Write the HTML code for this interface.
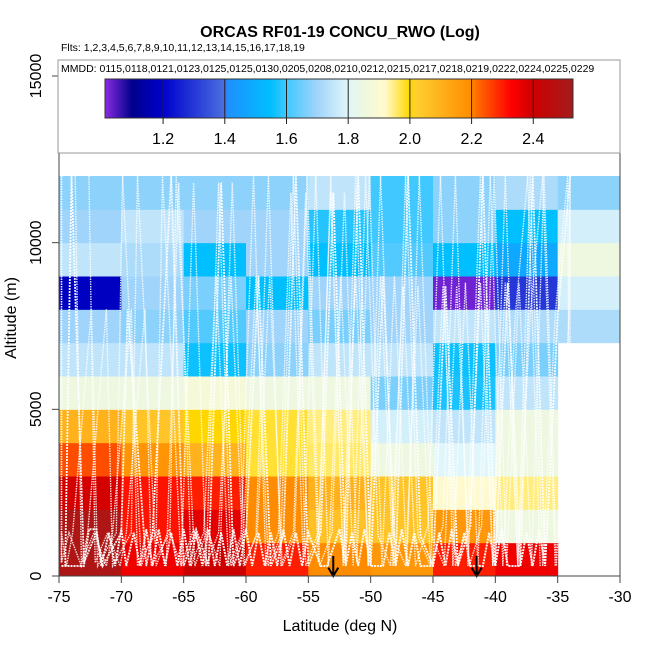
<!DOCTYPE html>
<html><head><meta charset="utf-8"><style>
html,body{margin:0;padding:0;background:#fff;}
svg{display:block;font-family:"Liberation Sans",Arial,sans-serif;}
</style></head><body>
<svg id="chart" width="650" height="650" viewBox="0 0 650 650" xmlns="http://www.w3.org/2000/svg">
<g id="cells"></g>
<g id="tracks"></g>
<g id="axes"></g>
<text x="340" y="37" text-anchor="middle" font-size="16" font-weight="bold">ORCAS RF01-19 CONCU_RWO (Log)</text>
<text x="61" y="51" font-size="10.5">Flts: 1,2,3,4,5,6,7,8,9,10,11,12,13,14,15,16,17,18,19</text>
<text x="340" y="631" text-anchor="middle" font-size="16">Latitude (deg N)</text>
<text transform="translate(16,318) rotate(-90)" text-anchor="middle" font-size="16">Altitude (m)</text>
<g id="legend"></g>
</svg>
<script>
const lats = [-75,-70,-65,-60,-55,-50,-45,-40,-35];
const alts = [0,1000,2000,3000,4000,5000,6000,7000,8000,9000,10000,11000];
// values[row][col], row = altitude bin bottom-up, col = latitude bin
const values = [
 [2.5,2.35,2.4,2.3,2.2,2.17,2.3,2.35,null],
 [2.5,2.31,2.37,2.2,2.06,2.05,2.17,1.85,null],
 [2.39,2.31,2.3,2.2,2.1,2.05,1.92,1.95,null],
 [2.25,2.18,2.1,1.98,1.96,1.85,1.8,1.85,null],
 [2.1,2.05,2.0,1.98,1.95,1.78,1.75,1.85,null],
 [1.85,1.85,1.88,1.85,1.85,1.66,1.57,1.75,null],
 [1.75,1.75,1.56,1.68,1.75,1.75,1.56,1.66,null],
 [1.7,1.68,1.62,1.7,1.66,1.7,1.75,1.72,1.72],
 [1.18,1.7,1.66,1.55,1.7,1.7,1.02,1.3,1.78],
 [1.75,1.72,1.55,1.7,1.55,1.62,1.55,1.48,1.85],
 [1.7,1.75,1.7,1.7,1.58,1.6,1.68,1.55,1.78],
 [1.68,1.68,1.68,1.68,1.75,1.6,1.68,1.72,1.68]
];
const xTicks = [-75,-70,-65,-60,-55,-50,-45,-40,-35,-30];
const yTicks = [0,5000,10000,15000];
const cbTicks = [1.2,1.4,1.6,1.8,2.0,2.2,2.4];
const arrowLats = [-53,-41.5];
const trackLat = [-74.5,-74,-73,-72,-71.5,-70,-69.5,-68,-67.5,-66,-65,-64,-63,-62,-61,-60,-59,-58,-57,-56,-55,-54,-53,-52,-51,-50,-49,-48,-47,-46,-45,-44,-43,-42,-41,-40,-39,-38,-37,-36,-35,-34];
const trackAlt = [300,12000,400,1300,300,1300,8000,300,1300,12000,300,1400,300,11800,300,1300,9000,300,1200,12000,300,1300,11500,400,12000,300,9000,300,12000,1200,300,8700,300,1500,12000,300,8800,300,12000,300,7800,12000];
const lowLat = [-74.8,-74.5,-73,-72.6,-72,-71.6,-71,-70.5,-70,-69.6,-69,-68.5,-68,-67.5,-67,-66.5,-66,-65.5,-65,-64.5,-64,-63.5,-63,-62.5,-62,-61.5,-61,-60.5,-60,-59.5,-59,-58.5,-58,-57.5,-57,-56.5,-56,-55.5,-55,-54,-53.5,-52.5,-52,-51.5,-51,-50.5,-50,-49,-48.5,-48,-47.5,-47,-46.5,-46,-45,-44.5,-44,-43.5,-43,-42.5,-42,-41,-40.5,-40,-39.5,-39,-38,-37.5,-37,-36.5,-36];
const lowAlt = [300,300,300,1400,1400,300,1300,300,1400,300,1300,300,1400,300,1400,300,1300,300,1400,300,1300,300,1400,300,1300,300,1400,300,1400,300,1300,300,1300,300,1400,300,1300,300,1300,300,300,1400,300,1300,300,1400,300,300,1300,300,1400,300,1300,300,300,1300,300,1400,300,1300,300,300,1300,300,1400,300,300,1300,300,1400,300];
const cbStops = [[1.0,"#8a2be2"],[1.1,"#00008b"],[1.2,"#0000cd"],[1.4,"#4a70e0"],[1.41,"#1e90ff"],[1.55,"#00bfff"],[1.6,"#40c8ff"],[1.7,"#a0d4fa"],[1.8,"#e0f6fa"],[1.85,"#eef8e0"],[1.92,"#fffacd"],[2.0,"#ffd700"],[2.02,"#ffd030"],[2.2,"#ff8c00"],[2.22,"#ff6a00"],[2.33,"#ff0000"],[2.4,"#cd0000"],[2.53,"#a51c1c"]];

const NS="http://www.w3.org/2000/svg";
const X = v => 59 + (v + 75) * (561/45);
const Y = v => 576 - v * (500/15000);
const CB = v => 105 + (v - 1.0117) * (308.5);
function hex(c){return [1,3,5].map(i=>parseInt(c.substr(i,2),16));}
function cmap(v){
  if(v<=cbStops[0][0])return cbStops[0][1];
  for(let i=1;i<cbStops.length;i++){
    if(v<=cbStops[i][0]){
      const a=cbStops[i-1],b=cbStops[i],t=(v-a[0])/(b[0]-a[0]);
      const ca=hex(a[1]),cb=hex(b[1]);
      return "rgb("+ca.map((x,k)=>Math.round(x+(cb[k]-x)*t)).join(",")+")";
    }
  }
  return cbStops[cbStops.length-1][1];
}
function mk(tag,attrs,parent){const e=document.createElementNS(NS,tag);for(const k in attrs)e.setAttribute(k,attrs[k]);parent.appendChild(e);return e;}

const gc=document.getElementById("cells");
values.forEach((row,r)=>row.forEach((v,c)=>{
  if(v===null)return;
  const x0=X(lats[c]),x1=X(lats[c]+5),y0=Y(alts[r]+1000),y1=Y(alts[r]);
  const e=mk("rect",{x:x0,y:y0,width:x1-x0+0.5,height:y1-y0+0.5,fill:cmap(v)},gc);
  
  
}));

const gt=document.getElementById("tracks");
let d="";
trackLat.forEach((la,i)=>{d+=(i?"L":"M")+X(la).toFixed(1)+","+Y(trackAlt[i]).toFixed(1);});
const tr=mk("path",{d:d,fill:"none",stroke:"#fff","stroke-width":1.8,"stroke-dasharray":"2,1","stroke-opacity":0.95},gt);


[0.8,-1.2,1.9,-2.4].forEach(s=>{
  let d2="";
  trackLat.forEach((la,i)=>{d2+=(i?"L":"M")+X(Math.max(-74.8,Math.min(-34,la+s))).toFixed(1)+","+Y(trackAlt[(i+1)%trackAlt.length]).toFixed(1);});
  const t2=mk("path",{d:d2,fill:"none",stroke:"#fff","stroke-width":1.4,"stroke-dasharray":"1.5,1","stroke-opacity":0.85},gt);
  
  
});
let d3="";
lowLat.forEach((la,i)=>{d3+=(i?"L":"M")+X(la).toFixed(1)+","+Y(lowAlt[i]).toFixed(1);});
const lt=mk("path",{d:d3,fill:"none",stroke:"#fff","stroke-width":2,"stroke-dasharray":"2,1","stroke-opacity":0.95},gt);



arrowLats.forEach(la=>{
  const x=X(la);
  const a=mk("path",{d:`M${x},${Y(600)}L${x},${Y(0)}M${x-5},${Y(250)}L${x},${Y(0)}L${x+5},${Y(250)}`,stroke:"#000","stroke-width":2,fill:"none"},gt);
  
  
});

const ga=document.getElementById("axes");
mk("path",{d:"M59,76L59,576L620,576L620,76",stroke:"#444","stroke-width":1,fill:"none"},ga);
xTicks.forEach(t=>{
  const x=X(t);
  mk("line",{x1:x,y1:576,x2:x,y2:583,stroke:"#444"},ga);
  const e=mk("text",{x:x,y:602,"text-anchor":"middle","font-size":16},ga);
  e.textContent=t;
  
  
});
yTicks.forEach(t=>{
  const y=Y(t);
  mk("line",{x1:52,y1:y,x2:59,y2:y,stroke:"#444"},ga);
  const e=mk("text",{transform:`translate(41,${y}) rotate(-90)`,"text-anchor":"middle","font-size":16},ga);
  e.textContent=t;
  
  
});

const gl=document.getElementById("legend");
mk("rect",{x:58,y:60,width:562,height:93,fill:"#fff",stroke:"#999","stroke-width":1},gl);
const mm=mk("text",{x:61,y:72,"font-size":10.5},gl);
mm.textContent="MMDD: 0115,0118,0121,0123,0125,0125,0130,0205,0208,0210,0212,0215,0217,0218,0219,0222,0224,0225,0229";


const defs=mk("defs",{},gl);
const lg=mk("linearGradient",{id:"cbg",x1:0,x2:1,y1:0,y2:0},defs);
const lo=CB(1.0117),hi=CB(2.53);
cbStops.forEach(s=>{mk("stop",{offset:Math.max(0,Math.min(1,(CB(s[0])-lo)/(hi-lo))),"stop-color":s[1]},lg);});
const bar=mk("rect",{x:105,y:79,width:468,height:39,fill:"url(#cbg)",stroke:"#333"},gl);


cbTicks.forEach(t=>{
  const x=CB(t);
  mk("line",{x1:x,y1:79,x2:x,y2:124,stroke:"#222","stroke-width":1},gl);
  const e=mk("text",{x:x,y:144,"text-anchor":"middle","font-size":16},gl);
  e.textContent=t.toFixed(1);
  
  
});
</script>
</body></html>
